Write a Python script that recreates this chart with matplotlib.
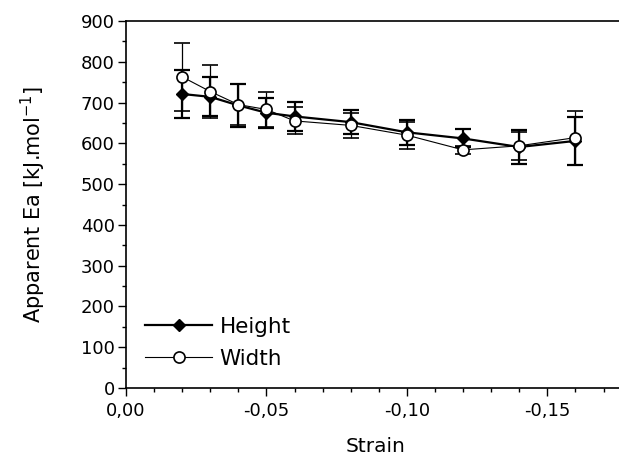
import matplotlib
matplotlib.use("Agg")
import matplotlib.pyplot as plt
from matplotlib.lines import Line2D
from matplotlib.ticker import MultipleLocator, FuncFormatter

plt.rcParams["font.family"] = ["DejaVu Sans"]

# apparent activation energy vs strain, measured on height and width
strain = [-0.02, -0.03, -0.04, -0.05, -0.06, -0.08, -0.10, -0.12, -0.14, -0.16]
height_ea = [721, 714, 693, 675, 666, 652, 627, 612, 591, 606]
height_err = [60, 48, 53, 37, 35, 30, 30, 22, 42, 59]
width_ea = [763, 727, 695, 683, 655, 644, 620, 584, 594, 614]
width_err = [83, 66, 50, 44, 33, 30, 33, 10, 34, 66]

fig = plt.figure(figsize=(6.19, 4.73), dpi=100)
ax = fig.add_axes([126 / 619, 1 - 388 / 473, 1 - 126 / 619 + 0.01, (388 - 21) / 473])

height_style = dict(color="black", lw=1.6, marker="D", ms=6, mfc="black", mec="black")
width_style = dict(color="black", lw=0.8, marker="o", ms=8, mfc="white", mec="black", mew=1.2)

ax.errorbar(strain, height_ea, yerr=height_err, elinewidth=1.6, capsize=6,
            capthick=1.6, zorder=3, **height_style)
ax.errorbar(strain, width_ea, yerr=width_err, elinewidth=0.9, capsize=6,
            capthick=0.9, zorder=4, **width_style)

ax.set_xlim(0, -0.1777)
ax.set_ylim(0, 900)
ax.xaxis.set_major_locator(MultipleLocator(0.05))
ax.xaxis.set_minor_locator(MultipleLocator(0.01))
ax.yaxis.set_major_locator(MultipleLocator(100))
ax.yaxis.set_minor_locator(MultipleLocator(50))
ax.xaxis.set_major_formatter(FuncFormatter(lambda v, p: f"{v:.2f}".replace(".", ",").replace("-0,00", "0,00")))
ax.tick_params(which="major", direction="out", length=6, width=1, labelsize=13)
ax.tick_params(which="minor", direction="out", length=3, width=1)
ax.tick_params(axis="x", pad=4)
ax.tick_params(axis="y", pad=2)
ax.spines["right"].set_visible(False)
for s in ("top", "left", "bottom"):
    ax.spines[s].set_linewidth(1.2)

ax.set_xlabel("Strain", fontsize=14.5, labelpad=12)
ax.set_ylabel("Apparent Ea [kJ.mol$^{-1}$]", fontsize=15, labelpad=24)

handles = [Line2D([], [], **height_style), Line2D([], [], **width_style)]
ax.legend(handles, ["Height", "Width"], loc="lower left", bbox_to_anchor=(0.0, 0.0),
          frameon=False, fontsize=15.5, handlelength=3.1, handletextpad=0.35,
          labelspacing=0.55)

fig.savefig("out.png", dpi=100)
